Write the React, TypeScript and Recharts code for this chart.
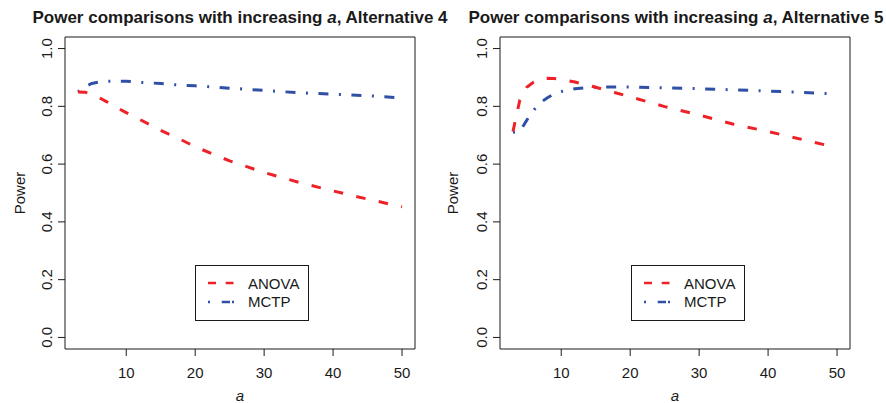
import React from 'react';
import { LineChart, Line, XAxis, YAxis, ReferenceArea } from 'recharts';

const aValues = [3, 4, 5, 6, 7, 8, 9, 10, 12, 15, 18, 20, 25, 30, 35, 40, 45, 50];
const anova4 = [0.850, 0.849, 0.842, 0.831, 0.818, 0.805, 0.791, 0.778, 0.754, 0.717, 0.684, 0.660, 0.611, 0.571, 0.537, 0.507, 0.479, 0.452];
const mctp4 = [0.850, 0.868, 0.879, 0.884, 0.886, 0.887, 0.887, 0.887, 0.883, 0.879, 0.873, 0.871, 0.863, 0.855, 0.847, 0.842, 0.837, 0.829];
const anova5 = [0.713, 0.822, 0.866, 0.884, 0.894, 0.897, 0.896, 0.893, 0.884, 0.866, 0.846, 0.833, 0.799, 0.770, 0.738, 0.713, 0.685, 0.657];
const mctp5 = [0.710, 0.713, 0.752, 0.787, 0.813, 0.830, 0.843, 0.851, 0.861, 0.867, 0.867, 0.867, 0.864, 0.861, 0.857, 0.853, 0.848, 0.843];

const xTicks = [10, 20, 30, 40, 50];
const yTicks = [0, 0.2, 0.4, 0.6, 0.8, 1.0];
const seriesNames = ['ANOVA', 'MCTP'];
const titles = ['Alternative 4', 'Alternative 5'];

const RED = '#ee2128';
const BLUE = '#3050a8';
const INK = '#1a1a1a';
const FONT = '"Liberation Sans", Arial, Helvetica, sans-serif';

const data4 = aValues.map((a, i) => ({ a, anova: anova4[i], mctp: mctp4[i] }));
const data5 = aValues.map((a, i) => ({ a, anova: anova5[i], mctp: mctp5[i] }));

const YTick = (props: any) => {
  const { x, y, payload } = props;
  return (
    <text
      transform={`translate(${x},${y}) rotate(-90)`}
      textAnchor="middle"
      fontSize={15}
      fontFamily={FONT}
      fill={INK}
    >
      {Number(payload.value).toFixed(1)}
    </text>
  );
};

const XLabel = (props: any) => {
  const vb = props.viewBox || { x: 0, y: 0, width: 0, height: 0 };
  return (
    <text
      x={vb.x + vb.width / 2}
      y={vb.y + 52}
      textAnchor="middle"
      fontSize={15}
      fontStyle="italic"
      fontFamily={FONT}
      fill={INK}
    >
      a
    </text>
  );
};

const YLabel = (props: any) => {
  const vb = props.viewBox || { x: 0, y: 0, width: 0, height: 0 };
  const base = props.base ?? 25;
  return (
    <text
      transform={`translate(${vb.x + base},${vb.y + vb.height / 2}) rotate(-90)`}
      textAnchor="middle"
      fontSize={15}
      fontFamily={FONT}
      fill={INK}
    >
      Power
    </text>
  );
};

const LegendBox = ({ left, top }: { left: number; top: number }) => (
  <svg
    width={116}
    height={58}
    style={{ position: 'absolute', left: left - 1, top: top - 1 }}
  >
    <rect x={1.5} y={1.5} width={113} height={55} fill="#fff" stroke={INK} strokeWidth={1} />
    <line x1={14} y1={19} x2={39.5} y2={19} stroke={RED} strokeWidth={2.6} strokeDasharray="8 9.7 8 100" />
    <line x1={14} y1={38} x2={40} y2={38} stroke={BLUE} strokeWidth={2.6} strokeDasharray="2 11.7 8.3 2 2 100" />
    <text x={54} y={25} fontSize={15} fontFamily={FONT} fill={INK}>{seriesNames[0]}</text>
    <text x={54} y={42.7} fontSize={15} fontFamily={FONT} fill={INK}>{seriesNames[1]}</text>
  </svg>
);

const Panel = ({ data, yWidth, marginRight, labelBase }: any) => (
  <LineChart
    width={443}
    height={403}
    data={data}
    margin={{ top: 37, right: marginRight, bottom: 0, left: 0 }}
  >
    <XAxis
      type="number"
      dataKey="a"
      domain={[1.12, 51.88]}
      ticks={xTicks}
      allowDataOverflow
      axisLine={false}
      tickSize={7}
      tickMargin={11}
      height={54}
      tick={{ fontSize: 15, fill: INK, fontFamily: FONT }}
      tickLine={{ stroke: INK }}
      label={<XLabel />}
    />
    <YAxis
      type="number"
      domain={[-0.04, 1.04]}
      ticks={yTicks}
      allowDataOverflow
      width={yWidth}
      axisLine={false}
      tickSize={7}
      tickMargin={6}
      tick={<YTick />}
      tickLine={{ stroke: INK }}
      label={<YLabel base={labelBase} />}
    />
    <ReferenceArea
      x1={1.12}
      x2={51.88}
      y1={-0.04}
      y2={1.04}
      fill="none"
      stroke={INK}
      strokeWidth={1}
      ifOverflow="visible"
    />
    <Line
      type="linear"
      dataKey="mctp"
      name={seriesNames[1]}
      stroke={BLUE}
      strokeWidth={3}
      strokeDasharray="2 10.5 10 10.5"
      dot={false}
      activeDot={false}
      isAnimationActive={false}
    />
    <Line
      type="linear"
      dataKey="anova"
      name={seriesNames[0]}
      stroke={RED}
      strokeWidth={3}
      strokeDasharray="9.5 13.5"
      dot={false}
      activeDot={false}
      isAnimationActive={false}
    />
  </LineChart>
);

export default function App() {
  return (
    <div style={{ position: 'absolute', left: 0, top: 0, width: 886, height: 403, background: '#fff' }}>
      <div style={{ position: 'absolute', left: 0, top: 0 }}>
        <Panel data={data4} yWidth={65} marginRight={28} labelBase={25} />
      </div>
      <div style={{ position: 'absolute', left: 443, top: 0 }}>
        <Panel data={data5} yWidth={57} marginRight={36} labelBase={15} />
      </div>
      <svg width={886} height={32} style={{ position: 'absolute', left: 0, top: 0, pointerEvents: 'none' }}>
        <text x={240} y={23} textAnchor="middle" fontSize={17} fontWeight="bold" fontFamily={FONT} fill={INK}>
          Power comparisons with increasing <tspan fontStyle="italic">a</tspan>, {titles[0]}
        </text>
        <text x={676} y={23} textAnchor="middle" fontSize={17} fontWeight="bold" fontFamily={FONT} fill={INK}>
          Power comparisons with increasing <tspan fontStyle="italic">a</tspan>, {titles[1]}
        </text>
      </svg>
      <LegendBox left={195} top={265} />
      <LegendBox left={631} top={265} />
    </div>
  );
}
